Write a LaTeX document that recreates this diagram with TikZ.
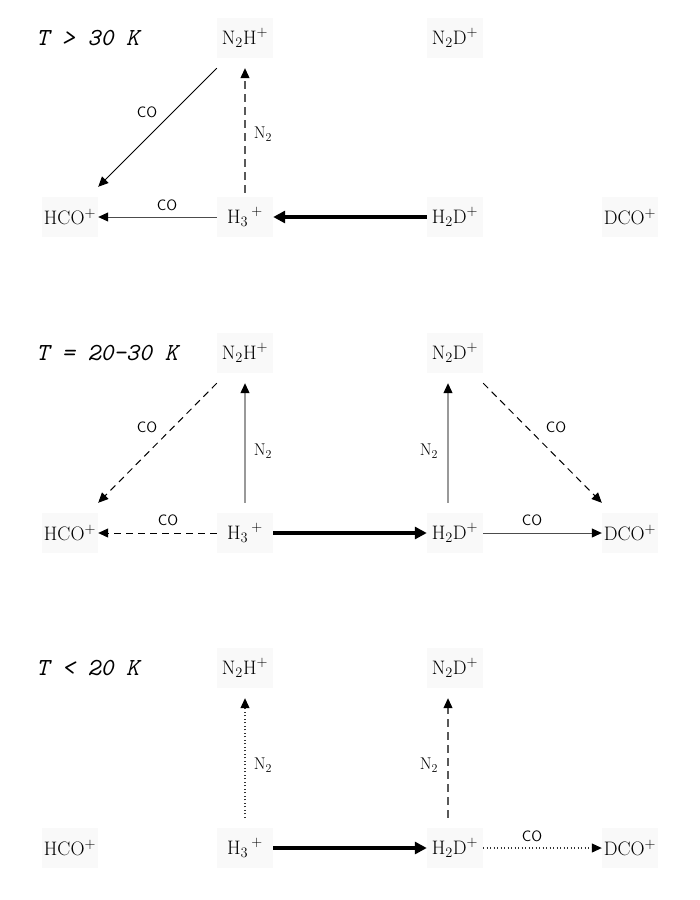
\documentclass[tikz,border=0pt]{standalone}
\usetikzlibrary{arrows.meta,calc}
\begin{document}
\begin{tikzpicture}[x=1pt,y=-1pt,
  box/.style={fill=black!2.5,minimum width=56pt,minimum height=40pt,inner sep=0pt,font=\fontsize{19.5}{22}\selectfont},
  lbl/.style={inner sep=0pt,font=\sffamily\fontsize{15}{16}\selectfont},
  nlbl/.style={inner sep=0pt,font=\fontsize{17}{18}\selectfont},
  ttl/.style={inner sep=0pt,anchor=west,font=\ttfamily\itshape\fontsize{24.5}{26}\selectfont},
  tip/.style={-{Triangle[length=10pt,width=9pt,color=black]}},
  thinarr/.style={tip,line width=1pt,black},
  grayarr/.style={tip,line width=1.1pt,black!40},
  dgdash/.style={tip,line width=1.1pt,black!65,dash pattern=on 8pt off 5pt},
  bkdash/.style={tip,line width=1pt,black,dash pattern=on 7pt off 5pt},
  dotarr/.style={tip,line width=1.1pt,black!80,dash pattern=on 1.2pt off 2.3pt},
  thickarr/.style={-{Triangle[length=12pt,width=12pt]},line width=4.5pt,black},
  hline/.style={tip,line width=1pt,black!70}
]
\useasboundingbox (0,0) rectangle (700,900);

% ---------- Panel 1 ----------
\node[ttl] (t1) at (36,38) {T > 30 K};
\node[box] (nh1) at (245,38) {N$_2$H$^+$};
\node[box] (nd1) at (455,38) {N$_2$D$^+$};
\node[box] (hco1) at (70,217) {HCO$^+$};
\node[box] (h31) at (245,217) {H$_3$\,$^+$};
\node[box] (h2d1) at (455,217) {H$_2$D$^+$};
\node[box] (dco1) at (630,217) {DCO$^+$};

\draw[thinarr] ([yshift=-10pt]nh1.south west) -- ([yshift=10pt]hco1.north east);
\draw[dgdash] ([yshift=4pt]h31.north) -- ([yshift=-10pt]nh1.south);
\draw[hline] (h31.west) -- (hco1.east);
\draw[thickarr] (h2d1.west) -- (h31.east);
\node[lbl] (c11) at (147,112) {CO};
\node[nlbl] (n11) at (263,134) {N$_2$};
\node[lbl] (c12) at (167,205) {CO};

% ---------- Panel 2 ----------
\node[ttl] (t2) at (36,353) {T = 20\textendash30 K};
\node[box] (nh2) at (245,353) {N$_2$H$^+$};
\node[box] (nd2) at (455,353) {N$_2$D$^+$};
\node[box] (hco2) at (70,533) {HCO$^+$};
\node[box] (h32) at (245,533) {H$_3$\,$^+$};
\node[box] (h2d2) at (455,533) {H$_2$D$^+$};
\node[box] (dco2) at (630,533) {DCO$^+$};

\draw[bkdash] ([yshift=-10pt]nh2.south west) -- ([yshift=10pt]hco2.north east);
\draw[grayarr] ([yshift=10pt]h32.north) -- ([yshift=-10pt]nh2.south);
\draw[bkdash] (h32.west) -- (hco2.east);
\draw[thickarr] (h32.east) -- (h2d2.west);
\draw[grayarr] ([xshift=-7pt,yshift=10pt]h2d2.north) -- ([xshift=-7pt,yshift=-10pt]nd2.south);
\draw[bkdash] ([yshift=-10pt]nd2.south east) -- ([yshift=10pt]dco2.north west);
\draw[hline] (h2d2.east) -- (dco2.west);
\node[lbl] (c21) at (147,427) {CO};
\node[nlbl] (n21) at (263,451) {N$_2$};
\node[lbl] (c22) at (168,520) {CO};
\node[nlbl] (n22) at (429,451) {N$_2$};
\node[lbl] (c23) at (556,427) {CO};
\node[lbl] (c24) at (532,520) {CO};

% ---------- Panel 3 ----------
\node[ttl] (t3) at (36,668) {T < 20 K};
\node[box] (nh3) at (245,668) {N$_2$H$^+$};
\node[box] (nd3) at (455,668) {N$_2$D$^+$};
\node[box] (hco3) at (70,848) {HCO$^+$};
\node[box] (h33) at (245,848) {H$_3$\,$^+$};
\node[box] (h2d3) at (455,848) {H$_2$D$^+$};
\node[box] (dco3) at (630,848) {DCO$^+$};

\draw[dotarr] ([yshift=10pt]h33.north) -- ([yshift=-10pt]nh3.south);
\draw[thickarr] (h33.east) -- (h2d3.west);
\draw[dgdash] ([xshift=-7pt,yshift=10pt]h2d3.north) -- ([xshift=-7pt,yshift=-10pt]nd3.south);
\draw[dotarr] (h2d3.east) -- (dco3.west);
\node[nlbl] (n31) at (263,765) {N$_2$};
\node[nlbl] (n32) at (429,765) {N$_2$};
\node[lbl] (c31) at (532,836) {CO};
\end{tikzpicture}
\end{document}
